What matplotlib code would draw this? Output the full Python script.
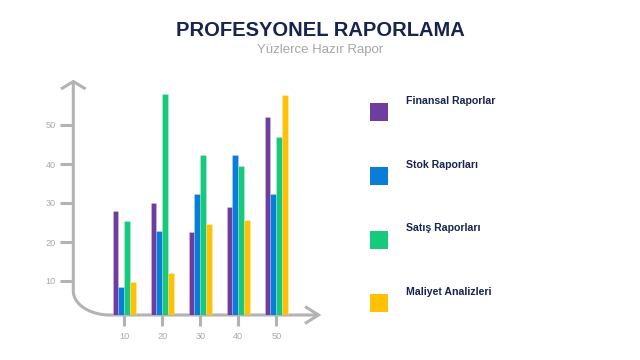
import numpy as np
import matplotlib
matplotlib.use("Agg")
import matplotlib.pyplot as plt
from matplotlib.patches import Rectangle

# ---- data ----
categories = [10, 20, 30, 40, 50]
series_names = ["Finansal Raporlar", "Stok Raporları", "Satış Raporları", "Maliyet Analizleri"]
finansal = [28, 30, 22.6, 29, 52]
stok = [8.5, 22.8, 32.2, 42.2, 32.2]
satis = [25.3, 57.9, 42.2, 39.5, 46.8]
maliyet = [9.7, 12.1, 24.7, 25.6, 57.7]
y_ticks = [10, 20, 30, 40, 50]
title = "PROFESYONEL RAPORLAMA"
subtitle = "Yüzlerce Hazır Rapor"

colors = ["#6e3d9f", "#0a7ddb", "#17c97c", "#ffc106"]
axis_gray = "#b3b3b3"
navy = "#172350"

W, H = 640, 360
fig = plt.figure(figsize=(6.4, 3.6), dpi=100)
plt.rcParams['font.family'] = ['Liberation Sans', 'DejaVu Sans']

# overlay axes in pixel coordinates for decorations
ov = fig.add_axes([0, 0, 1, 1])
ov.set_xlim(0, W)
ov.set_ylim(H, 0)
ov.axis("off")

# axis path with curved corner
t = np.linspace(0, np.pi / 2, 50)
cx, cy, rx, ry = 110, 291, 36.7, 24
xs = np.concatenate([[73.3], cx - rx * np.cos(t), [318]])
ys = np.concatenate([[82], cy + ry * np.sin(t), [315]])
ov.plot(xs, ys, color=axis_gray, lw=2.2, solid_capstyle="butt", solid_joinstyle="round")
# arrow heads
ov.plot([61, 73.3, 85.6], [89, 81.5, 89], color=axis_gray, lw=2.2, solid_capstyle="butt", solid_joinstyle="miter")
ov.plot([305, 318.5, 305], [306.5, 315, 323.5], color=axis_gray, lw=2.2, solid_capstyle="butt", solid_joinstyle="miter")

# title
ov.text(320, 30, title, ha="center", va="center", fontsize=14.5, fontweight="bold", color=navy)
ov.text(320, 49.5, subtitle, ha="center", va="center", fontsize=9.5, color="#a6a6a6")

# legend
sq_tops = [103.3, 167.0, 230.7, 294.3]
for name, col, top in zip(series_names, colors, sq_tops):
    ov.add_patch(Rectangle((370, top), 18, 18, facecolor=col, edgecolor="none"))
    ov.text(405.5, top - 2.5, name, ha="left", va="center", fontsize=7.6, fontweight="bold", color=navy)

# bar axes
left_px, right_px, bottom_px, top_px = 73.3, 330, 315, 70
ax = fig.add_axes([left_px / W, (H - bottom_px) / H, (right_px - left_px) / W, (bottom_px - top_px) / H])
ax.patch.set_alpha(0)
x0_px, px_per_x = 124.3, 3.8
y0_px, px_per_y = 320, 3.9
ax.set_xlim(10 + (left_px - x0_px) / px_per_x, 10 + (right_px - x0_px) / px_per_x)
ax.set_ylim((y0_px - bottom_px) / px_per_y, (y0_px - top_px) / px_per_y)

bw = 5.85 / px_per_x
x = np.array(categories, dtype=float)
for i, (vals, col) in enumerate(zip([finansal, stok, satis, maliyet], colors)):
    ax.bar(x + (i - 1.5) * bw, vals, width=bw, color=col, edgecolor=(1, 1, 1, 0.35), linewidth=0.4)

for s in ax.spines.values():
    s.set_visible(False)
ax.set_xticks(categories)
ax.set_xticklabels([str(c) for c in categories])
ax.set_yticks(y_ticks)
ax.set_yticklabels([str(v) for v in y_ticks])
ax.tick_params(axis="both", color=axis_gray, width=2.2, labelcolor="#a9a9a9", labelsize=6.6)
ax.tick_params(axis="y", length=9.3, pad=3.5)
ax.tick_params(axis="x", length=8.0, pad=4.5)

fig.savefig("out.png", dpi=100)
